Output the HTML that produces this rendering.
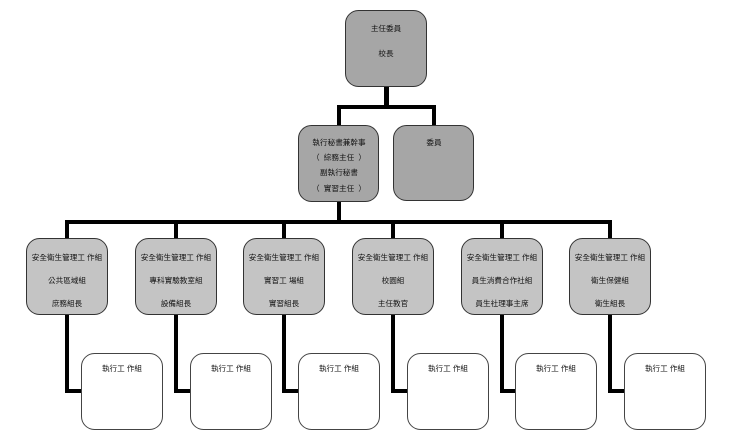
<!DOCTYPE html>
<html><head><meta charset="utf-8"><style>
html,body{margin:0;padding:0;background:#fff;}
svg{display:block;}
text{font-family:"Liberation Sans","Noto Sans CJK TC",sans-serif;font-size:7.6px;fill:#111;text-anchor:middle;white-space:pre;}
</style></head><body>
<svg width="742" height="445" viewBox="0 0 742 445" xmlns="http://www.w3.org/2000/svg">
<!-- connectors -->
<g fill="#000">
<rect x="384" y="87" width="5" height="22"/>
<rect x="337" y="105" width="99" height="4"/>
<rect x="337" y="105" width="4" height="20"/>
<rect x="432" y="105" width="4" height="20"/>
<rect x="337" y="202" width="4" height="22"/>
<rect x="65" y="220" width="547" height="4"/>
<rect x="65" y="220" width="4" height="173"/>
<rect x="174" y="220" width="4" height="173"/>
<rect x="282" y="220" width="4" height="173"/>
<rect x="391" y="220" width="4" height="173"/>
<rect x="500" y="220" width="4" height="173"/>
<rect x="608" y="220" width="4" height="173"/>
<rect x="65" y="389" width="17" height="4"/>
<rect x="174" y="389" width="17" height="4"/>
<rect x="282" y="389" width="17" height="4"/>
<rect x="391" y="389" width="17" height="4"/>
<rect x="500" y="389" width="16" height="4"/>
<rect x="608" y="389" width="17" height="4"/>
</g>
<!-- top -->
<rect x="345.5" y="10.5" width="81" height="76" rx="13" fill="#a6a6a6" stroke="#333" stroke-width="1"/>
<text x="386" y="31">主任委員</text>
<text x="386" y="56">校長</text>
<!-- second level -->
<rect x="298.5" y="125.5" width="80" height="76" rx="13" fill="#a6a6a6" stroke="#333" stroke-width="1"/>
<text x="339" y="145">執行秘書兼幹事</text>
<text x="339" y="160">（  綜務主任  ）</text>
<text x="339" y="175">副執行秘書</text>
<text x="339" y="191">（  實習主任  ）</text>
<rect x="393.5" y="125.5" width="80" height="75" rx="13" fill="#a6a6a6" stroke="#333" stroke-width="1"/>
<text x="434" y="145">委員</text>
<!-- third level -->
<g fill="#c4c4c4" stroke="#333" stroke-width="1">
<rect x="26.5" y="238.5" width="81" height="76" rx="13"/>
<rect x="135.5" y="238.5" width="81" height="76" rx="13"/>
<rect x="243.5" y="238.5" width="81" height="76" rx="13"/>
<rect x="352.5" y="238.5" width="81" height="76" rx="13"/>
<rect x="461.5" y="238.5" width="81" height="76" rx="13"/>
<rect x="569.5" y="238.5" width="81" height="76" rx="13"/>
</g>
<text x="67" y="260">安全衛生管理工 作組</text>
<text x="67" y="283">公共區域組</text>
<text x="67" y="306">庶務組長</text>
<text x="176" y="260">安全衛生管理工 作組</text>
<text x="176" y="283">專科實驗教室組</text>
<text x="176" y="306">設備組長</text>
<text x="284" y="260">安全衛生管理工 作組</text>
<text x="284" y="283">實習工 場組</text>
<text x="284" y="306">實習組長</text>
<text x="393" y="260">安全衛生管理工 作組</text>
<text x="393" y="283">校園組</text>
<text x="393" y="306">主任教官</text>
<text x="502" y="260">安全衛生管理工 作組</text>
<text x="502" y="283">員生消費合作社組</text>
<text x="502" y="306">員生社理事主席</text>
<text x="610" y="260">安全衛生管理工 作組</text>
<text x="610" y="283">衛生保健組</text>
<text x="610" y="306">衛生組長</text>
<!-- bottom white -->
<g fill="#fff" stroke="#444" stroke-width="1">
<rect x="81.5" y="353.5" width="81" height="76" rx="13"/>
<rect x="190.5" y="353.5" width="81" height="76" rx="13"/>
<rect x="298.5" y="353.5" width="81" height="76" rx="13"/>
<rect x="407.5" y="353.5" width="81" height="76" rx="13"/>
<rect x="515.5" y="353.5" width="81" height="76" rx="13"/>
<rect x="624.5" y="353.5" width="81" height="76" rx="13"/>
</g>
<text x="122" y="371">執行工 作組</text>
<text x="231" y="371">執行工 作組</text>
<text x="339" y="371">執行工 作組</text>
<text x="448" y="371">執行工 作組</text>
<text x="556" y="371">執行工 作組</text>
<text x="665" y="371">執行工 作組</text>
</svg>
</body></html>
